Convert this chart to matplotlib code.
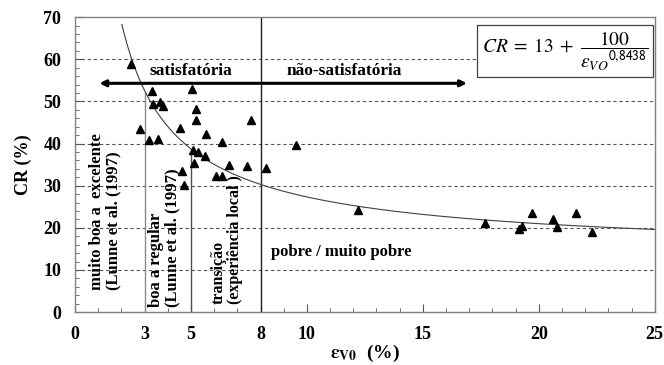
import numpy as np
import matplotlib
matplotlib.use("Agg")
import matplotlib.pyplot as plt
from matplotlib.ticker import MultipleLocator, FixedLocator

plt.rcParams['font.family'] = ['Liberation Serif', 'DejaVu Serif']
plt.rcParams['mathtext.fontset'] = 'stix'

# measured points (eps_v0 %, CR %)
eps_v0 = [2.40, 3.32, 5.04, 3.35, 3.67, 3.81, 5.22, 5.22, 7.60, 2.82,
          4.53, 5.64, 3.18, 3.57, 6.32, 5.07, 5.32, 5.60, 5.11, 6.65,
          7.41, 8.25, 4.63, 6.06, 6.35, 4.69, 9.53, 12.19, 17.69, 19.69,
          19.16, 19.26, 20.60, 21.60, 20.80, 22.30]
cr = [58.8, 52.4, 52.9, 49.5, 49.8, 49.0, 48.1, 45.7, 45.6, 43.5,
      43.7, 42.2, 40.8, 41.0, 40.4, 38.4, 38.0, 37.1, 35.4, 35.0,
      34.6, 34.1, 33.5, 32.4, 32.4, 30.1, 39.6, 24.2, 21.2, 23.6,
      19.8, 20.4, 22.0, 23.6, 20.1, 19.1]

# fitted curve CR = 13 + 100 / eps^0.8438
a, b, n = 13, 100, 0.8438
x_fit = np.linspace(2.02, 25, 300)
y_fit = a + b / x_fit ** n

# class limits on eps_v0 and the heights of their dividers
limits = [3, 5, 8]
limit_tops = [51.9, 38.0, 70]
limit_colors = ['#8a8a8a', '#505050', '#202020']

x_ticks = [0, 3, 5, 8, 10, 15, 20, 25]

fig, ax = plt.subplots(figsize=(6.64, 3.65), dpi=100)
fig.subplots_adjust(left=0.113, right=0.986, top=0.953, bottom=0.145)

ax.set_xlim(0, 25)
ax.set_ylim(0, 70)

for y in range(10, 70, 10):
    ax.axhline(y, color='#555555', lw=0.8, ls=(0, (3, 2.5)), zorder=1)

for xl, top, c in zip(limits, limit_tops, limit_colors):
    ax.plot([xl, xl], [0, top], color=c, lw=1.0, zorder=2)

ax.plot(x_fit, y_fit, color='#404040', lw=0.8, zorder=3)
ax.plot(eps_v0, cr, ls='none', marker='^', color='black', ms=6, zorder=4)

# satisfactory / unsatisfactory arrow
ax.annotate('', xy=(1.05, 54.3), xytext=(16.9, 54.3),
            arrowprops=dict(arrowstyle='<|-|>', lw=2.2, color='black',
                            mutation_scale=9, shrinkA=0, shrinkB=0))
ax.text(5.0, 55.4, 'satisfatória', ha='center', va='bottom',
        fontsize=12.5, fontweight='bold')
ax.text(11.6, 55.4, 'não-satisfatória', ha='center', va='bottom',
        fontsize=12.5, fontweight='bold')

ax.text(1.3, 5.3, 'muito boa a  excelente\n(Lunne et al. (1997)', rotation=90,
        ha='center', va='bottom', multialignment='left',
        fontsize=12, fontweight='bold', linespacing=1.0)
ax.text(3.85, 1.2, 'boa a regular\n(Lunne et al. (1997)', rotation=90,
        ha='center', va='bottom', multialignment='left',
        fontsize=12, fontweight='bold', linespacing=1.05)
ax.text(6.55, 2.0, 'transição\n(experiência local )', rotation=90,
        ha='center', va='bottom', multialignment='left',
        fontsize=11.5, fontweight='bold', linespacing=1.05)
ax.text(8.45, 14.2, 'pobre / muito pobre', ha='left', va='center',
        fontsize=12, fontweight='bold')

ax.text(0.845, 0.885,
        r'$CR\;=\;13\;+\;\dfrac{100}{\varepsilon_{VO}{}^{\mathsf{0{,}8438}}}$',
        transform=ax.transAxes, ha='center', va='center', fontsize=14,
        bbox=dict(boxstyle='square,pad=0.25', fc='white', ec='#404040', lw=0.9),
        zorder=5)

ax.xaxis.set_major_locator(FixedLocator(x_ticks))
ax.xaxis.set_minor_locator(MultipleLocator(1))
ax.yaxis.set_major_locator(MultipleLocator(10))
ax.yaxis.set_minor_locator(MultipleLocator(2))
ax.tick_params(which='both', direction='in', color='#555555', top=False, right=False)
ax.tick_params(which='major', length=6, labelsize=13, pad=10)
ax.tick_params(which='minor', length=3)
for lab in ax.get_xticklabels() + ax.get_yticklabels():
    lab.set_fontweight('bold')

for s in ax.spines.values():
    s.set_color('#808080')
    s.set_linewidth(1.0)

ax.set_ylabel('CR (%)', fontsize=13, fontweight='bold', labelpad=8)
ax.set_xlabel(r'$\mathbf{\varepsilon}_{\mathsf{\mathbf{V0}}}$  (%)', fontsize=14,
              fontweight='bold', labelpad=0)

fig.savefig('out.png', dpi=100)
